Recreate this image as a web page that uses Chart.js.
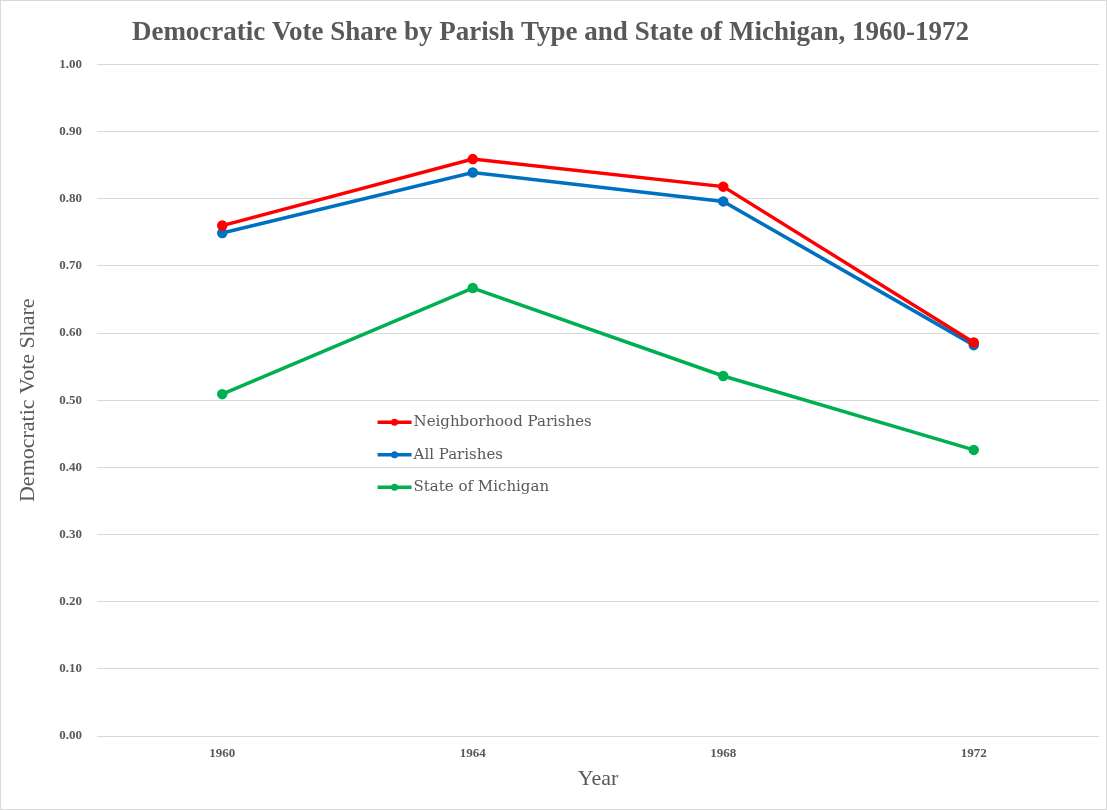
<!DOCTYPE html>
<html>
<head>
<meta charset="utf-8">
<script src="https://cdn.jsdelivr.net/npm/chart.js@4/dist/chart.umd.min.js"></script>
<style>
  html, body { margin: 0; padding: 0; background: #fff; }
  #wrap { position: relative; width: 1105px; height: 808px; border: 1px solid #d9d9d9; }
</style>
</head>
<body>
<div id="wrap"><canvas id="chart"></canvas></div>
<script>
const years = ["1960", "1964", "1968", "1972"]
const neighborhoodParishes = [0.760, 0.859, 0.818, 0.586]
const allParishes = [0.749, 0.839, 0.796, 0.582]
const stateOfMichigan = [0.509, 0.667, 0.536, 0.426]
const yTicks = [0, 0.1, 0.2, 0.3, 0.4, 0.5, 0.6, 0.7, 0.8, 0.9, 1.0]

const textColor = "#595959"
const serif = "'Liberation Serif', 'DejaVu Serif', serif"

function series(label, data, color) {
  return {
    label,
    data,
    borderColor: color,
    backgroundColor: color,
    borderWidth: 3.5,
    pointRadius: 3.5,
    pointHoverRadius: 3.5,
    tension: 0,
  }
}

// legend drawn inside the plot, like the original
const innerLegend = {
  id: "innerLegend",
  afterDatasetsDraw(chart) {
    const { ctx, chartArea } = chart
    const x = chartArea.left + 0.28 * (chartArea.right - chartArea.left)
    let y = chartArea.top + 0.533 * (chartArea.bottom - chartArea.top)
    ctx.save()
    ctx.font = "15px 'DejaVu Serif', serif"
    ctx.textBaseline = "middle"
    chart.data.datasets.forEach(ds => {
      ctx.strokeStyle = ds.borderColor
      ctx.lineWidth = 3.5
      ctx.beginPath()
      ctx.moveTo(x, y)
      ctx.lineTo(x + 34, y)
      ctx.stroke()
      ctx.fillStyle = ds.borderColor
      ctx.beginPath()
      ctx.arc(x + 17, y, 3.5, 0, Math.PI * 2)
      ctx.fill()
      ctx.fillStyle = textColor
      ctx.fillText(ds.label, x + 36, y)
      y += 32.5
    })
    ctx.restore()
  }
}

new Chart(document.getElementById("chart"), {
  type: "line",
  data: {
    labels: years,
    datasets: [
      series("Neighborhood Parishes", neighborhoodParishes, "#ff0000"),
      series("All Parishes", allParishes, "#0070c0"),
      series("State of Michigan", stateOfMichigan, "#00b050"),
    ]
  },
  plugins: [innerLegend],
  options: {
    responsive: true,
    maintainAspectRatio: false,
    animation: false,
    layout: { padding: { top: 8, right: 6, bottom: 8, left: 0 } },
    plugins: {
      legend: { display: false },
      tooltip: { enabled: false },
      title: {
        display: true,
        text: "Democratic Vote Share by Parish Type and State of Michigan, 1960-1972",
        color: textColor,
        font: { family: serif, size: 27, weight: "bold" },
        padding: { top: 8, bottom: 15 }
      }
    },
    scales: {
      x: {
        offset: true,
        grid: { display: false },
        border: { display: false },
        afterFit(scale) { scale.height = 65 },
        ticks: { color: textColor, font: { family: serif, size: 13, weight: "bold" }, padding: 2 },
        title: {
          display: true,
          text: "Year",
          color: textColor,
          font: { family: serif, size: 22 },
          padding: { top: 4, bottom: 9 }
        }
      },
      y: {
        min: 0,
        max: 1,
        afterBuildTicks(scale) {
          scale.ticks = yTicks.map(v => ({ value: v }))
        },
        afterFit(scale) { scale.width = 96 },
        grid: { color: "#d9d9d9", lineWidth: 1, drawTicks: false },
        border: { display: false },
        ticks: {
          color: textColor,
          font: { family: serif, size: 13, weight: "bold" },
          padding: 15,
          callback: v => Number(v).toFixed(2)
        },
        title: {
          display: true,
          text: "Democratic Vote Share",
          color: textColor,
          font: { family: serif, size: 22 },
          padding: { top: 14, bottom: 0 }
        }
      }
    }
  }
})
</script>
</body>
</html>
